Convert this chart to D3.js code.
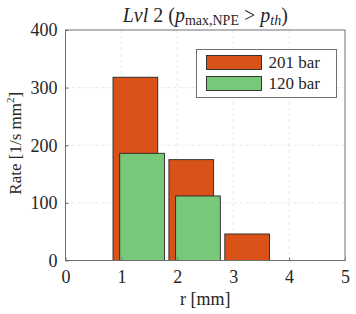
<!DOCTYPE html>
<html>
<head>
<meta charset="utf-8">
<script src="https://cdn.jsdelivr.net/npm/d3@7"></script>
<style>
  body { margin: 0; background: #fff; }
  text { font-family: "Liberation Serif", "DejaVu Serif", serif; fill: #262626; }
</style>
</head>
<body>
<div id="chart"></div>
<script>
// bin centres and rates
const bins201 = [1.25, 2.25, 3.25];
const rate201 = [318, 175, 46];
const bins120 = [1.37, 2.37];
const rate120 = [186, 112];
const barWidth = 0.8;
const seriesNames = ["201 bar", "120 bar"];
const xTicks = [0, 1, 2, 3, 4, 5];
const yTicks = [0, 100, 200, 300, 400];

const W = 356, H = 314;
const m = { left: 65.5, right: 11, top: 30, bottom: 53.5 };
const redFill = "#D95319";
const greenFill = "#77C878";
const frame = "#707070";
const serif = "Liberation Serif, serif";

const svg = d3.select("#chart").append("svg")
  .attr("width", W)
  .attr("height", H);

const x = d3.scaleLinear().domain([0, 5]).range([m.left, W - m.right]);
const y = d3.scaleLinear().domain([0, 400]).range([H - m.bottom, m.top]);

// grid
const grid = svg.append("g")
  .attr("stroke", "#dcdcdc")
  .attr("stroke-dasharray", "3,3")
  .attr("stroke-width", 0.7);
grid.selectAll("line.gx")
  .data(xTicks.slice(1, -1))
  .enter().append("line")
  .attr("x1", d => x(d)).attr("x2", d => x(d))
  .attr("y1", y(0)).attr("y2", y(400));
grid.selectAll("line.gy")
  .data(yTicks.slice(1, -1))
  .enter().append("line")
  .attr("x1", x(0)).attr("x2", x(5))
  .attr("y1", d => y(d)).attr("y2", d => y(d));

function drawBars(bins, vals, fill) {
  svg.append("g").selectAll("rect")
    .data(bins.map((b, i) => ({ b: b, v: vals[i] })))
    .enter().append("rect")
    .attr("x", d => x(d.b - barWidth / 2))
    .attr("width", d => x(d.b + barWidth / 2) - x(d.b - barWidth / 2))
    .attr("y", d => y(d.v))
    .attr("height", d => y(0) - y(d.v))
    .attr("fill", fill)
    .attr("stroke", "#262626")
    .attr("stroke-width", 0.9);
}
drawBars(bins201, rate201, redFill);
drawBars(bins120, rate120, greenFill);

// axes box
svg.append("rect")
  .attr("x", x(0)).attr("y", y(400))
  .attr("width", x(5) - x(0)).attr("height", y(0) - y(400))
  .attr("fill", "none")
  .attr("stroke", frame)
  .attr("stroke-width", 1);

const xAxis = svg.append("g")
  .attr("transform", `translate(0,${y(0)})`)
  .call(d3.axisBottom(x).tickValues(xTicks).tickFormat(d3.format("d"))
    .tickSizeInner(-3).tickSizeOuter(0).tickPadding(10));
const yAxis = svg.append("g")
  .attr("transform", `translate(${x(0)},0)`)
  .call(d3.axisLeft(y).tickValues(yTicks).tickFormat(d3.format("d"))
    .tickSizeInner(-3).tickSizeOuter(0).tickPadding(8));
[xAxis, yAxis].forEach(a => {
  a.select(".domain").remove();
  a.selectAll(".tick line").attr("stroke", frame);
  a.selectAll(".tick text")
    .attr("font-size", 18)
    .attr("font-family", serif)
    .attr("fill", "#262626");
});

// labels
svg.append("text")
  .attr("x", x(2.5)).attr("y", 305)
  .attr("text-anchor", "middle")
  .attr("font-size", 18)
  .text("r [mm]");

const yl = svg.append("text")
  .attr("transform", `translate(21,${y(200) - 2}) rotate(-90)`)
  .attr("text-anchor", "middle")
  .attr("font-size", 17);
yl.append("tspan").text("Rate [1/s mm");
yl.append("tspan").attr("font-size", 11).attr("dy", -7).text("2");
yl.append("tspan").attr("dy", 7).text("]");

const title = svg.append("text")
  .attr("x", x(2.5)).attr("y", 22)
  .attr("text-anchor", "middle")
  .attr("font-size", 20);
title.append("tspan").attr("font-style", "italic").text("Lvl");
title.append("tspan").text(" 2 (");
title.append("tspan").attr("font-style", "italic").text("p");
title.append("tspan").attr("font-size", 14).attr("dy", 3).text("max,NPE");
title.append("tspan").attr("dy", -3).text(" > ");
title.append("tspan").attr("font-style", "italic").text("p");
title.append("tspan").attr("font-size", 14).attr("dy", 3).attr("font-style", "italic").text("th");
title.append("tspan").attr("dy", -3).text(")");

// legend
const lg = svg.append("g").attr("transform", "translate(196.5,49.5)");
lg.append("rect")
  .attr("width", 140).attr("height", 48)
  .attr("fill", "#fff")
  .attr("stroke", frame)
  .attr("stroke-width", 1);
const items = lg.selectAll("g.item")
  .data(seriesNames.map((n, i) => ({ n: n, c: i === 0 ? redFill : greenFill })))
  .enter().append("g")
  .attr("transform", (d, i) => `translate(10,${6 + i * 21})`);
items.append("rect")
  .attr("width", 55).attr("height", 14)
  .attr("fill", d => d.c)
  .attr("stroke", "#262626")
  .attr("stroke-width", 0.9);
items.append("text")
  .attr("x", 62).attr("y", 12.5)
  .attr("font-size", 17)
  .text(d => d.n);
</script>
</body>
</html>
